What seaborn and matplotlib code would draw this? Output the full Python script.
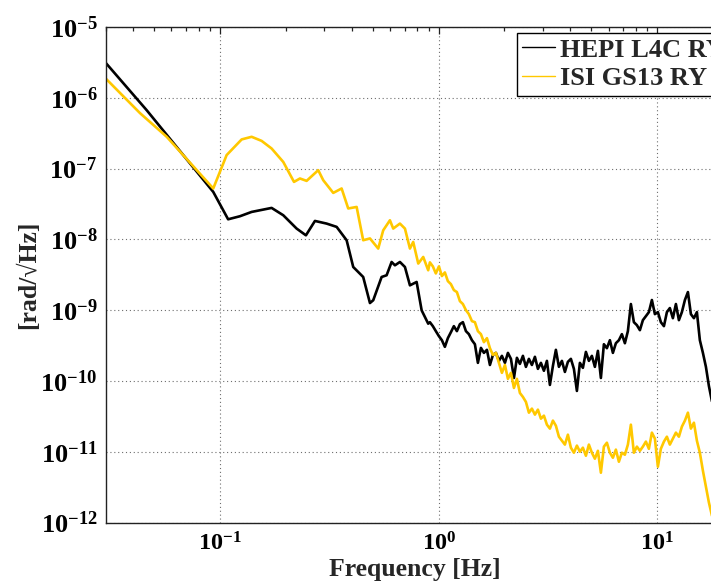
import pandas as pd
import seaborn as sns
import matplotlib.pyplot as plt
from matplotlib.ticker import LogLocator, NullFormatter

# HEPI L4C RY, low-frequency part (Hz, rad/rtHz)
hepi_lf_freq = [0.030, 0.0462, 0.0932, 0.109, 0.1234, 0.1396, 0.1723, 0.1948, 0.2242, 0.2473,
                0.2719, 0.3075, 0.3417, 0.3796, 0.4069, 0.4519, 0.4852, 0.5023, 0.5487, 0.5783,
                0.6096, 0.6313, 0.6653, 0.7013, 0.7393, 0.7932, 0.8362, 0.8960]
hepi_lf_asd = [3.13e-6, 6.70e-7, 4.68e-8, 1.92e-8, 2.12e-8, 2.44e-8, 2.78e-8, 2.19e-8, 1.42e-8, 1.14e-8,
               1.82e-8, 1.67e-8, 1.50e-8, 9.71e-9, 4.07e-9, 2.94e-9, 1.26e-9, 1.38e-9, 2.94e-9, 3.11e-9,
               4.79e-9, 4.30e-9, 4.79e-9, 4.07e-9, 2.24e-9, 2.50e-9, 9.94e-10, 6.44e-10]

# ISI GS13 RY, low-frequency part
isi_lf_freq = [0.030, 0.0431, 0.0571, 0.0932, 0.1073, 0.1257, 0.1396, 0.1551, 0.1723, 0.1948,
               0.2181, 0.2322, 0.2491, 0.2815, 0.2967, 0.3297, 0.3601, 0.3860, 0.4218, 0.4519,
               0.4852, 0.5294, 0.5579, 0.5988, 0.6200, 0.6653, 0.7013, 0.7393, 0.7652, 0.8069,
               0.8503, 0.8960]
isi_lf_asd = [1.88e-6, 6.07e-7, 2.81e-7, 5.23e-8, 1.55e-7, 2.58e-7, 2.81e-7, 2.46e-7, 1.92e-7, 1.24e-7,
              6.48e-8, 7.24e-8, 6.70e-8, 9.49e-8, 6.85e-8, 4.53e-8, 5.23e-8, 2.73e-8, 2.87e-8, 9.71e-9,
              1.03e-8, 7.41e-9, 1.34e-8, 1.86e-8, 1.42e-8, 1.67e-8, 1.42e-8, 7.41e-9, 9.19e-9, 4.55e-9,
              5.64e-9, 3.66e-9]

# noisy high-frequency part, shared frequency bins
hf_freq = [0.912, 0.941, 0.971, 1.003, 1.035, 1.068, 1.102, 1.138, 1.174, 1.212,
           1.251, 1.291, 1.333, 1.375, 1.420, 1.465, 1.512, 1.561, 1.611, 1.663,
           1.716, 1.771, 1.828, 1.887, 1.947, 2.010, 2.074, 2.141, 2.210, 2.280,
           2.353, 2.429, 2.507, 2.587, 2.670, 2.756, 2.844, 2.936, 3.030, 3.127,
           3.227, 3.331, 3.437, 3.548, 3.662, 3.779, 3.900, 4.025, 4.155, 4.288,
           4.425, 4.567, 4.714, 4.865, 5.021, 5.182, 5.349, 5.520, 5.697, 5.880,
           6.069, 6.264, 6.464, 6.672, 6.886, 7.107, 7.335, 7.570, 7.813, 8.064,
           8.323, 8.590, 8.866, 9.150, 9.444, 9.747, 10.06, 10.38, 10.72, 11.06,
           11.41, 11.78, 12.16, 12.55, 12.95, 13.37, 13.80, 14.24, 14.70, 15.17,
           15.65, 16.16, 16.68, 17.21, 17.76, 18.33]
hepi_hf_asd = [6.76e-10, 5.94e-10, 5.05e-10, 4.29e-10, 3.76e-10, 3.03e-10, 4.02e-10, 4.88e-10, 5.94e-10, 5.05e-10,
               6.34e-10, 6.76e-10, 5.05e-10, 4.58e-10, 3.76e-10, 3.30e-10, 1.80e-10, 2.93e-10, 2.49e-10, 2.75e-10,
               1.68e-10, 2.33e-10, 2.49e-10, 1.92e-10, 2.26e-10, 1.80e-10, 2.49e-10, 2.05e-10, 1.10e-10, 2.12e-10,
               1.74e-10, 2.26e-10, 1.58e-10, 2.05e-10, 1.68e-10, 2.19e-10, 1.48e-10, 1.80e-10, 1.39e-10, 1.92e-10,
               8.78e-11, 1.63e-10, 2.75e-10, 1.58e-10, 1.92e-10, 1.34e-10, 1.86e-10, 2.05e-10, 1.48e-10, 7.22e-11,
               1.80e-10, 1.53e-10, 2.57e-10, 1.92e-10, 2.26e-10, 1.58e-10, 2.66e-10, 1.10e-10, 3.30e-10, 2.90e-10,
               3.76e-10, 2.49e-10, 3.41e-10, 3.76e-10, 4.58e-10, 3.41e-10, 5.05e-10, 1.22e-9, 6.76e-10, 6.14e-10,
               5.21e-10, 7.22e-10, 8.22e-10, 9.37e-10, 1.39e-9, 8.78e-10, 9.37e-10, 6.76e-10, 5.94e-10, 9.37e-10,
               1.07e-9, 7.70e-10, 1.22e-9, 7.22e-10, 9.37e-10, 1.39e-9, 1.80e-9, 8.78e-10, 7.70e-10, 9.37e-10,
               3.76e-10, 2.49e-10, 1.58e-10, 8.50e-11, 5.21e-11, 3.53e-11]
isi_hf_asd = [4.73e-9, 4.15e-9, 3.30e-9, 4.15e-9, 3.03e-9, 3.41e-9, 2.57e-9, 2.33e-9, 1.92e-9, 1.80e-9,
              1.34e-9, 1.22e-9, 1.00e-9, 8.78e-10, 6.99e-10, 6.76e-10, 5.05e-10, 4.58e-10, 3.53e-10, 4.02e-10,
              2.90e-10, 2.33e-10, 2.49e-10, 1.80e-10, 1.30e-10, 1.68e-10, 1.07e-10, 1.30e-10, 7.96e-11, 1.07e-10,
              6.76e-11, 5.94e-11, 5.05e-11, 3.56e-11, 4.06e-11, 3.34e-11, 3.93e-11, 2.93e-11, 3.23e-11, 2.41e-11,
              2.12e-11, 2.75e-11, 2.33e-11, 1.63e-11, 1.43e-11, 1.26e-11, 1.74e-11, 1.14e-11, 9.68e-12, 1.22e-11,
              1.00e-11, 1.14e-11, 8.78e-12, 1.26e-11, 9.68e-12, 7.96e-12, 1.03e-11, 5.05e-12, 1.18e-11, 1.34e-11,
              9.68e-12, 8.22e-12, 1.07e-11, 7.22e-12, 9.68e-12, 9.07e-12, 1.26e-11, 2.41e-11, 9.68e-12, 1.18e-11,
              1.03e-11, 1.18e-11, 1.39e-11, 1.10e-11, 1.86e-11, 1.53e-11, 6.14e-12, 1.10e-11, 1.39e-11, 1.63e-11,
              1.26e-11, 1.53e-11, 1.86e-11, 1.63e-11, 2.26e-11, 2.75e-11, 3.56e-11, 2.12e-11, 2.57e-11, 1.43e-11,
              9.68e-12, 5.39e-12, 3.20e-12, 1.92e-12, 1.26e-12, 9.07e-13]

labels = ["HEPI L4C RY", "ISI GS13 RY"]
colors = ["#000000", "#ffc800"]

df = pd.concat([
    pd.DataFrame({"freq": hepi_lf_freq + hf_freq, "asd": hepi_lf_asd + hepi_hf_asd, "sensor": labels[0]}),
    pd.DataFrame({"freq": isi_lf_freq + hf_freq, "asd": isi_lf_asd + isi_hf_asd, "sensor": labels[1]}),
])

sns.set_style("white")
plt.rcParams["font.family"] = ["Liberation Serif", "DejaVu Serif"]
plt.rcParams["font.weight"] = "bold"
plt.rcParams["mathtext.fontset"] = "custom"
plt.rcParams["mathtext.rm"] = "Liberation Serif:bold"
plt.rcParams["mathtext.bf"] = "Liberation Serif:bold"
plt.rcParams["mathtext.it"] = "Liberation Serif:bold:italic"

fig = plt.figure(figsize=(7.11, 5.84), dpi=100)
# axes run past the right edge, as in the cropped original
ax = fig.add_axes([0.1485, 0.1053, 0.8686, 0.8485])

sns.lineplot(data=df, x="freq", y="asd", hue="sensor", palette=colors,
             estimator=None, sort=False, linewidth=1.9, ax=ax, legend=False)

ax.set_xscale("log")
ax.set_yscale("log")
ax.set_xlim(0.03, 20)
ax.set_ylim(1e-12, 1e-5)

ax.xaxis.set_minor_locator(LogLocator(base=10, subs=range(2, 10), numticks=20))
ax.yaxis.set_minor_locator(LogLocator(base=10, subs=range(2, 10), numticks=20))
ax.yaxis.set_major_locator(LogLocator(base=10, numticks=20))
ax.xaxis.set_minor_formatter(NullFormatter())
ax.yaxis.set_minor_formatter(NullFormatter())

ax.grid(True, which="major", linestyle=(0, (1, 2.5)), color="#6e6e6e", linewidth=0.8)
ax.tick_params(which="both", direction="in", top=True, right=True, width=0.9, colors="#222222")
ax.tick_params(which="major", length=5, pad=7, labelcolor="black")
ax.tick_params(axis="x", which="major", labelsize=17.5)
ax.tick_params(axis="y", which="major", labelsize=19, pad=6)
ax.tick_params(which="minor", length=3)
for sp in ax.spines.values():
    sp.set_color("#222222")
    sp.set_linewidth(1.0)

ax.set_xlabel("Frequency [Hz]", fontsize=18.5, fontweight="bold", labelpad=2)
ax.set_ylabel("[rad/\u221aHz]", fontsize=18.5, fontweight="bold", labelpad=0)

handles = ax.get_lines()[:2]
leg = ax.legend(handles, labels, loc="upper left", bbox_to_anchor=(0.666, 0.988),
                borderaxespad=0, fancybox=False, framealpha=1, edgecolor="black",
                fontsize=19, handlelength=1.25, handletextpad=0.2,
                borderpad=0.2, labelspacing=0.2)
leg.get_frame().set_linewidth(1.0)
for line in leg.get_lines():
    line.set_linewidth(1.0)

plt.savefig("out.png", dpi=100)
